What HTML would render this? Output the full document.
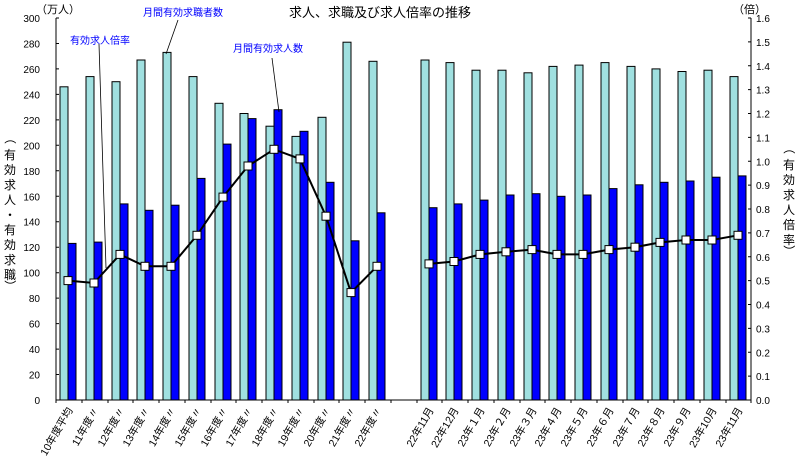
<!DOCTYPE html>
<html><head><meta charset="utf-8"><style>
html,body{margin:0;padding:0;background:#fff;}
svg{display:block;font-family:"Liberation Sans","Noto Sans CJK JP",sans-serif;}
</style></head><body>
<svg width="800" height="460" viewBox="0 0 800 460" xmlns="http://www.w3.org/2000/svg">
<rect width="800" height="460" fill="#fff"/>
<g fill="#a0e0e0" stroke="#000" stroke-width="1">
<rect x="60" y="86.8" width="8" height="313.2"/>
<rect x="86" y="76.6" width="8" height="323.4"/>
<rect x="112" y="81.7" width="8" height="318.3"/>
<rect x="137" y="60" width="8" height="340"/>
<rect x="163" y="52.4" width="8" height="347.6"/>
<rect x="189" y="76.6" width="8" height="323.4"/>
<rect x="215" y="103.3" width="8" height="296.7"/>
<rect x="240" y="113.5" width="8" height="286.5"/>
<rect x="266" y="126.2" width="8" height="273.8"/>
<rect x="292" y="136.4" width="8" height="263.6"/>
<rect x="318" y="117.3" width="8" height="282.7"/>
<rect x="343" y="42.2" width="8" height="357.8"/>
<rect x="369" y="61.3" width="8" height="338.7"/>
<rect x="421" y="60" width="8" height="340"/>
<rect x="446" y="62.6" width="8" height="337.4"/>
<rect x="472" y="70.2" width="8" height="329.8"/>
<rect x="498" y="70.2" width="8" height="329.8"/>
<rect x="524" y="72.8" width="8" height="327.2"/>
<rect x="549" y="66.4" width="8" height="333.6"/>
<rect x="575" y="65.1" width="8" height="334.9"/>
<rect x="601" y="62.6" width="8" height="337.4"/>
<rect x="627" y="66.4" width="8" height="333.6"/>
<rect x="652" y="68.9" width="8" height="331.1"/>
<rect x="678" y="71.5" width="8" height="328.5"/>
<rect x="704" y="70.2" width="8" height="329.8"/>
<rect x="730" y="76.6" width="8" height="323.4"/>
</g>
<g fill="#0000ff" stroke="#000" stroke-width="1">
<rect x="68" y="243.4" width="8" height="156.6"/>
<rect x="94" y="242.1" width="8" height="157.9"/>
<rect x="120" y="203.9" width="8" height="196.1"/>
<rect x="145" y="210.3" width="8" height="189.7"/>
<rect x="171" y="205.2" width="8" height="194.8"/>
<rect x="197" y="178.4" width="8" height="221.6"/>
<rect x="223" y="144.1" width="8" height="255.9"/>
<rect x="248" y="118.6" width="8" height="281.4"/>
<rect x="274" y="109.7" width="8" height="290.3"/>
<rect x="300" y="131.3" width="8" height="268.7"/>
<rect x="326" y="182.3" width="8" height="217.7"/>
<rect x="351" y="240.8" width="8" height="159.2"/>
<rect x="377" y="212.8" width="8" height="187.2"/>
<rect x="429" y="207.7" width="8" height="192.3"/>
<rect x="454" y="203.9" width="8" height="196.1"/>
<rect x="480" y="200.1" width="8" height="199.9"/>
<rect x="506" y="195" width="8" height="205"/>
<rect x="532" y="193.7" width="8" height="206.3"/>
<rect x="557" y="196.3" width="8" height="203.7"/>
<rect x="583" y="195" width="8" height="205"/>
<rect x="609" y="188.6" width="8" height="211.4"/>
<rect x="635" y="184.8" width="8" height="215.2"/>
<rect x="660" y="182.3" width="8" height="217.7"/>
<rect x="686" y="181" width="8" height="219"/>
<rect x="712" y="177.2" width="8" height="222.8"/>
<rect x="738" y="175.9" width="8" height="224.1"/>
</g>
<g stroke="#000" stroke-width="1">
<line x1="56" y1="18" x2="56" y2="400"/>
<line x1="751" y1="18" x2="751" y2="400"/>
<line x1="56" y1="400" x2="751" y2="400"/>
<path d="M56 400h3M56 374.5h3M56 349.1h3M56 323.6h3M56 298.1h3M56 272.7h3M56 247.2h3M56 221.7h3M56 196.3h3M56 170.8h3M56 145.3h3M56 119.9h3M56 94.4h3M56 68.9h3M56 43.5h3M56 18h3"/>
<path d="M748 400h3M748 376.1h3M748 352.3h3M748 328.4h3M748 304.5h3M748 280.6h3M748 256.8h3M748 232.9h3M748 209h3M748 185.1h3M748 161.3h3M748 137.4h3M748 113.5h3M748 89.6h3M748 65.8h3M748 41.9h3M748 18h3"/>
<path d="M56 400v3M82 400v3M108 400v3M133 400v3M159 400v3M185 400v3M211 400v3M236 400v3M262 400v3M288 400v3M314 400v3M339 400v3M365 400v3M391 400v3M417 400v3M442 400v3M468 400v3M494 400v3M520 400v3M545 400v3M571 400v3M597 400v3M623 400v3M648 400v3M674 400v3M700 400v3M726 400v3M751 400v3"/>
</g>
<g font-size="10" text-anchor="end" fill="#000">
<text x="40" y="404">0</text><text x="40" y="378.5">20</text><text x="40" y="353.1">40</text><text x="40" y="327.6">60</text><text x="40" y="302.1">80</text><text x="40" y="276.7">100</text><text x="40" y="251.2">120</text><text x="40" y="225.7">140</text><text x="40" y="200.3">160</text><text x="40" y="174.8">180</text><text x="40" y="149.3">200</text><text x="40" y="123.9">220</text><text x="40" y="98.4">240</text><text x="40" y="72.9">260</text><text x="40" y="47.5">280</text><text x="40" y="22">300</text>
</g>
<g font-size="10" fill="#000">
<text x="756" y="404">0.0</text><text x="756" y="380.1">0.1</text><text x="756" y="356.3">0.2</text><text x="756" y="332.4">0.3</text><text x="756" y="308.5">0.4</text><text x="756" y="284.6">0.5</text><text x="756" y="260.8">0.6</text><text x="756" y="236.9">0.7</text><text x="756" y="213">0.8</text><text x="756" y="189.1">0.9</text><text x="756" y="165.3">1.0</text><text x="756" y="141.4">1.1</text><text x="756" y="117.5">1.2</text><text x="756" y="93.6">1.3</text><text x="756" y="69.8">1.4</text><text x="756" y="45.9">1.5</text><text x="756" y="22">1.6</text>
</g>
<g stroke="#000" stroke-width="0.8">
<line x1="99" y1="44" x2="106" y2="268"/>
<line x1="178" y1="20" x2="166" y2="54"/>
<line x1="272" y1="58" x2="279" y2="112"/>
</g>
<g fill="none" stroke="#000" stroke-width="2">
<polyline points="68,280.6 94,283 120,254.4 145,266.3 171,266.3 197,235.3 223,197.1 248,166 274,149.3 300,158.9 326,216.2 351,292.6 377,266.3"/>
<polyline points="429,263.9 454,261.5 480,254.4 506,251.8 532,249.6 557,254.4 583,254.4 609,249.6 635,247.2 660,242.4 686,240 712,240 738,235.3"/>
</g>
<g fill="#fff" stroke="#000" stroke-width="1">
<rect x="64" y="276.6" width="8" height="8"/><rect x="90" y="279" width="8" height="8"/><rect x="116" y="250.4" width="8" height="8"/><rect x="141" y="262.3" width="8" height="8"/><rect x="167" y="262.3" width="8" height="8"/><rect x="193" y="231.3" width="8" height="8"/><rect x="219" y="193.1" width="8" height="8"/><rect x="244" y="162" width="8" height="8"/><rect x="270" y="145.3" width="8" height="8"/><rect x="296" y="154.9" width="8" height="8"/><rect x="322" y="212.2" width="8" height="8"/><rect x="347" y="288.6" width="8" height="8"/><rect x="373" y="262.3" width="8" height="8"/>
<rect x="425" y="259.9" width="8" height="8"/><rect x="450" y="257.5" width="8" height="8"/><rect x="476" y="250.4" width="8" height="8"/><rect x="502" y="247.8" width="8" height="8"/><rect x="528" y="245.6" width="8" height="8"/><rect x="553" y="250.4" width="8" height="8"/><rect x="579" y="250.4" width="8" height="8"/><rect x="605" y="245.6" width="8" height="8"/><rect x="631" y="243.2" width="8" height="8"/><rect x="656" y="238.4" width="8" height="8"/><rect x="682" y="236" width="8" height="8"/><rect x="708" y="236" width="8" height="8"/><rect x="734" y="231.3" width="8" height="8"/>
</g>
<g font-size="10.5" text-anchor="end" fill="#000">
<text x="73" y="410" transform="rotate(-60 73 410)">10年度平均</text>
<text x="99" y="410" transform="rotate(-60 99 410)">11年度〃</text>
<text x="125" y="410" transform="rotate(-60 125 410)">12年度〃</text>
<text x="150" y="410" transform="rotate(-60 150 410)">13年度〃</text>
<text x="176" y="410" transform="rotate(-60 176 410)">14年度〃</text>
<text x="202" y="410" transform="rotate(-60 202 410)">15年度〃</text>
<text x="228" y="410" transform="rotate(-60 228 410)">16年度〃</text>
<text x="253" y="410" transform="rotate(-60 253 410)">17年度〃</text>
<text x="279" y="410" transform="rotate(-60 279 410)">18年度〃</text>
<text x="305" y="410" transform="rotate(-60 305 410)">19年度〃</text>
<text x="331" y="410" transform="rotate(-60 331 410)">20年度〃</text>
<text x="356" y="410" transform="rotate(-60 356 410)">21年度〃</text>
<text x="382" y="410" transform="rotate(-60 382 410)">22年度〃</text>
<text x="434" y="410" transform="rotate(-60 434 410)">22年11月</text>
<text x="459" y="410" transform="rotate(-60 459 410)">22年12月</text>
<text x="485" y="410" transform="rotate(-60 485 410)">23年１月</text>
<text x="511" y="410" transform="rotate(-60 511 410)">23年２月</text>
<text x="537" y="410" transform="rotate(-60 537 410)">23年３月</text>
<text x="562" y="410" transform="rotate(-60 562 410)">23年４月</text>
<text x="588" y="410" transform="rotate(-60 588 410)">23年５月</text>
<text x="614" y="410" transform="rotate(-60 614 410)">23年６月</text>
<text x="640" y="410" transform="rotate(-60 640 410)">23年７月</text>
<text x="665" y="410" transform="rotate(-60 665 410)">23年８月</text>
<text x="691" y="410" transform="rotate(-60 691 410)">23年９月</text>
<text x="717" y="410" transform="rotate(-60 717 410)">23年10月</text>
<text x="743" y="410" transform="rotate(-60 743 410)">23年11月</text>
</g>
<text x="380" y="17" font-size="13" text-anchor="middle">求人、求職及び求人倍率の推移</text>
<text x="36" y="13" font-size="11">（万人）</text>
<text x="733" y="13" font-size="11">（倍）</text>
<text x="143" y="16" font-size="10" fill="#0000ff">月間有効求職者数</text>
<text x="70" y="44" font-size="10" fill="#0000ff">有効求人倍率</text>
<text x="233" y="52" font-size="10" fill="#0000ff">月間有効求人数</text>
<g font-size="12" text-anchor="middle">
<text x="10" y="142" transform="rotate(90 10 138)">（</text>
<text x="10" y="159">有</text><text x="10" y="174">効</text><text x="10" y="189">求</text><text x="10" y="204">人</text><text x="10" y="219">・</text><text x="10" y="234">有</text><text x="10" y="249">効</text><text x="10" y="264">求</text><text x="10" y="279">職</text>
<text x="10" y="290" transform="rotate(90 10 286)">）</text>
<text x="789" y="152" transform="rotate(90 789 148)">（</text>
<text x="789" y="169">有</text><text x="789" y="184">効</text><text x="789" y="199">求</text><text x="789" y="214">人</text><text x="789" y="229">倍</text><text x="789" y="244">率</text>
<text x="789" y="255" transform="rotate(90 789 251)">）</text>
</g>
</svg>
</body></html>
